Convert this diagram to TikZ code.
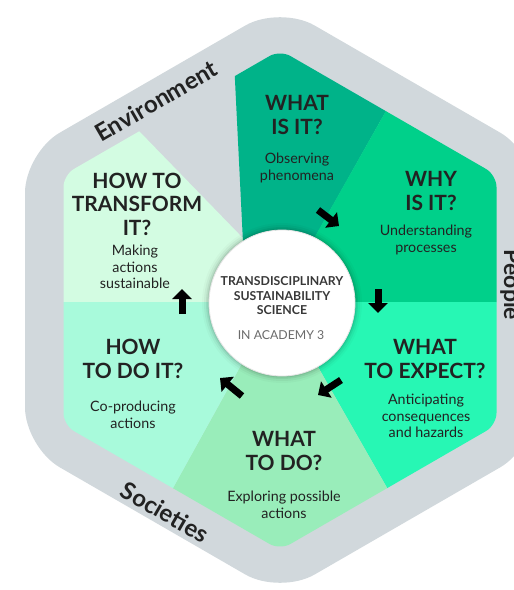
\documentclass[tikz,border=0pt]{standalone}
\usepackage{fontspec}
\setmainfont{Lato}
\usetikzlibrary{arrows.meta}
\definecolor{hexgrey}{HTML}{D1D8DC}
\definecolor{cwhat}{HTML}{00B389}
\definecolor{cwhy}{HTML}{00D08A}
\definecolor{cexpect}{HTML}{27F7B4}
\definecolor{ctodo}{HTML}{99EDBA}
\definecolor{chowdo}{HTML}{A8FADB}
\definecolor{ctransform}{HTML}{D3FCE2}
\definecolor{ink}{HTML}{222222}
\definecolor{subgrey}{HTML}{6A6A6A}
\begin{document}
\begin{tikzpicture}[x=1pt,y=-1pt,
  head/.style={font=\fontsize{21}{23.5}\selectfont\bfseries, text=ink, align=center, inner sep=0pt},
  desc/.style={font=\fontsize{14.3}{16.5}\selectfont, text=ink, align=center, inner sep=0pt},
  side/.style={font=\fontsize{24}{28}\selectfont\bfseries, text=ink, inner sep=0pt},
  fatarrow/.style={line width=7pt, -{Triangle[length=10pt,width=19pt]}, black}]
\useasboundingbox (0,0) rectangle (514,590);
\clip (0,0) rectangle (514,590);
% outer grey hexagon
\fill[hexgrey, rounded corners=40pt] (280,5.5) -- (535,152.75) -- (535,447.25) -- (280,594.5) -- (25,447.25) -- (25,152.75) -- cycle;
% coloured sectors clipped by the inner hexagon
\begin{scope}
  \clip[rounded corners=12pt] (280,50) -- (496.5,175) -- (496.5,425) -- (280,550) -- (63.5,425) -- (63.5,175) -- cycle;
  \fill[ctransform] (40,302) -- (40,80) -- (89.5,80) -- (305,302) -- cycle;
  \fill[cwhat] (233,40) -- (246,303) -- (278,303) -- (426,40) -- cycle;
  \fill[cwhy] (278,302) -- (426,40) -- (540,40) -- (540,302) -- cycle;
  \fill[cexpect] (281,302) -- (540,302) -- (540,600) -- (451,600) -- cycle;
  \fill[ctodo] (276,302) -- (281,302) -- (451,600) -- (111,600) -- cycle;
  \fill[chowdo] (40,302) -- (276,302) -- (111,600) -- (40,600) -- cycle;
\end{scope}
% centre hub with soft halo
\foreach \r/\o in {80/0.025, 78/0.04, 76/0.06, 74.5/0.08} \fill[black, opacity=\o] (282,303) circle[radius=\r];
\node[circle, fill=white, draw=black!10, line width=0.8pt, minimum size=146pt, inner sep=0pt] (hub) at (282,303) {};
\node[font=\fontsize{12.3}{14.5}\selectfont\bfseries, text=ink!90, align=center, inner sep=0pt] (hubtitle) at (282,296) {TRANSDISCIPLINARY\\SUSTAINABILITY\\SCIENCE};
\node[font=\fontsize{12.3}{14.5}\selectfont, text=subgrey, inner sep=0pt] (hubsub) at (281,335) {IN ACADEMY 3};
% sector texts
\node[head] (whathead) at (297,115) {WHAT\\IS IT?};
\node[desc] (whatdesc) at (297,168) {Observing\\phenomena};
\node[head] (whyhead) at (431,191) {WHY\\IS IT?};
\node[desc] (whydesc) at (426,240) {Understanding\\processes};
\node[head] (expecthead) at (425,359) {WHAT\\TO EXPECT?};
\node[desc] (expectdesc) at (426,416) {Anticipating\\consequences\\and hazards};
\node[head] (todohead) at (284,451) {WHAT\\TO DO?};
\node[desc] (tododesc) at (284,505) {Exploring possible\\actions};
\node[head] (howdohead) at (133,359) {HOW\\TO DO IT?};
\node[desc] (howdodesc) at (133,415) {Co-producing\\actions};
\node[head] (transformhead) at (137,204) {HOW TO\\TRANSFORM\\IT?};
\node[desc] (transformdesc) at (135,267) {Making\\actions\\sustainable};
% side labels
\node[side, rotate=30] (environment) at (156,101) {Environment};
\node[side, rotate=-30] (societies) at (165,512) {Societies};
\node[side, rotate=-90, font=\fontsize{23}{26}\selectfont\bfseries, anchor=base] (people) at (504,285) {People};
% arrows
\coordinate (a1s) at (318,210); \coordinate (a1e) at (339,226);
\coordinate (a2s) at (378,289); \coordinate (a2e) at (378,313);
\coordinate (a3s) at (341,380); \coordinate (a3e) at (318,395);
\coordinate (a4s) at (242,396); \coordinate (a4e) at (220,378);
\coordinate (a5s) at (182,314); \coordinate (a5e) at (182,289);
\draw[fatarrow] (a1s) -- (a1e);
\draw[fatarrow] (a2s) -- (a2e);
\draw[fatarrow] (a3s) -- (a3e);
\draw[fatarrow] (a4s) -- (a4e);
\draw[fatarrow] (a5s) -- (a5e);
\end{tikzpicture}
\end{document}
